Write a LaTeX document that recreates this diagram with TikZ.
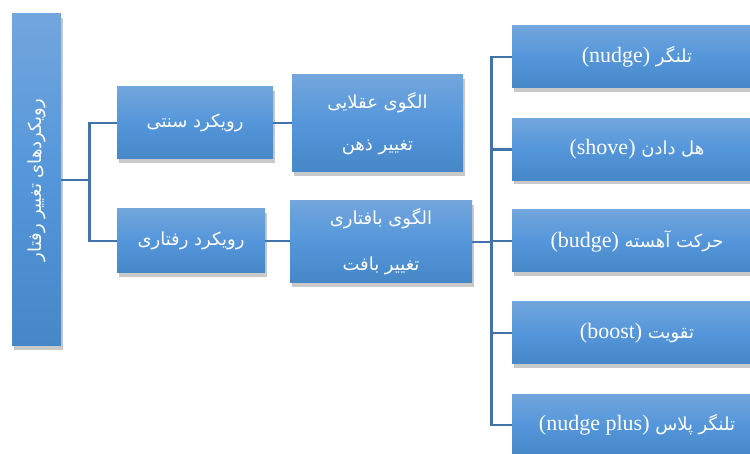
\documentclass[tikz,border=0pt]{standalone}
\usepackage{fontspec}
\usepackage{xcolor}
\usepackage{tikz}
\usetikzlibrary{shadows,positioning,calc}
\TeXXeTstate=1
\newfontfamily\persianfont[Script=Arabic]{DejaVu Sans}
\newfontfamily\latinfont{Liberation Serif}
\newcommand{\fatext}[1]{{\persianfont\beginR #1\endR}}
\newcommand{\entext}[1]{\beginL{\latinfont\fontsize{22}{26}\selectfont #1}\endL{}}
\definecolor{boxtop}{RGB}{114,166,221}
\definecolor{boxmid}{RGB}{84,150,218}
\definecolor{boxbot}{RGB}{70,135,199}
\definecolor{linkblue}{RGB}{67,115,168}

\begin{document}
\begin{tikzpicture}[x=1pt, y=-1pt,
  box/.style={rectangle, top color=boxtop, bottom color=boxbot, middle color=boxmid,
              text=white, align=center, inner sep=0pt,
              font=\fontsize{18}{22}\selectfont,
              drop shadow={shadow xshift=2pt, shadow yshift=-4pt, opacity=0.3, fill=black!70}},
  twoline/.style={box, font=\fontsize{18}{42}\selectfont},
  leaf/.style={box, minimum width=250, minimum height=62},
  link/.style={draw=linkblue, line width=2.6pt}
]
  \useasboundingbox (0,0) rectangle (750,454);
  \clip (0,0) rectangle (750,454);

  % root and first level
  \node[box, minimum width=49, minimum height=332] (root) at (36.5,180)
    {\rotatebox{90}{\fatext{رویکردهای تغییر رفتار}}};
  \node[box, minimum width=156, minimum height=72] (trad) at (195,123) {\fatext{رویکرد سنتی}};
  \node[box, minimum width=148, minimum height=64] (behav) at (191,241) {\fatext{رویکرد رفتاری}};

  % models
  \node[twoline, minimum width=171, minimum height=97] (rational) at (377.5,123.5)
    {\fatext{الگوی عقلایی}\\\fatext{تغییر ذهن}};
  \node[twoline, minimum width=182, minimum height=82, font=\fontsize{18}{46}\selectfont] (context) at (381,242)
    {\fatext{الگوی بافتاری}\\\fatext{تغییر بافت}};

  % tools
  \foreach \nm/\yy/\fa/\en in {nudge/57/تلنگر/nudge, shove/149.5/هل دادن/shove,
      budge/241/حرکت آهسته/budge, boost/333/تقویت/boost, plus/425/تلنگر پلاس/nudge plus}
    \node[leaf] (\nm) at (637,\yy) {\fatext{\fa\ \entext{(\en)}}};

  % connectors
  \draw[link] (root.east) -- ++(28,0) coordinate (jl);
  \draw[link] (jl) |- (trad.west);
  \draw[link] (jl) |- (behav.west);
  \draw[link] (trad.east) -- (trad.east -| rational.west);
  \draw[link] (behav.east) -- (behav.east -| context.west);
  \draw[link] (context.east) -- ++(19,0) coordinate (jr);
  \foreach \nm in {nudge,shove,budge,boost,plus}
    \draw[link] (jr) |- (\nm.west);
\end{tikzpicture}
\end{document}
